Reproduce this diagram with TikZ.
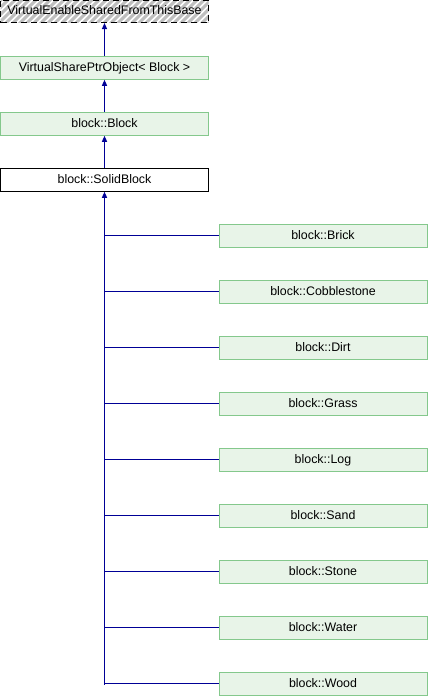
\documentclass[tikz,border=0pt]{standalone}
\usepackage{fontspec}
\setmainfont{Liberation Sans}
\usetikzlibrary{arrows.meta}
\definecolor{boxfill}{RGB}{232,244,232}
\definecolor{boxline}{RGB}{132,200,140}
\definecolor{edgecol}{RGB}{0,0,150}
\definecolor{hatchcol}{RGB}{190,190,190}
\tikzset{
  cls/.style={draw=boxline, fill=boxfill, line width=1pt, minimum width=208pt, minimum height=23pt, inner sep=0pt, font=\fontsize{12.4}{14}\selectfont, text height=9pt, text depth=2.5pt},
  curcls/.style={cls, draw=black, fill=white},
  inh/.style={draw=edgecol, line width=1pt, -{Triangle[length=6pt,width=5pt]}},
  conn/.style={draw=edgecol, line width=1pt}
}
\begin{document}
\begin{tikzpicture}[x=1pt,y=-1pt]
\useasboundingbox (0,0) rectangle (428,696);
% top hatched box
\begin{scope}
  \clip (0.5,0) rectangle (208.5,22.5);
  \fill[white] (0.5,0) rectangle (208.5,22.5);
  \foreach \i in {-30,-23,...,230}{
    \draw[hatchcol, line width=3pt] (\i,24) -- (\i+26,-2);
  }
\end{scope}
\node[cls, draw=black, dashed, fill=none, dash pattern=on 6pt off 4pt, minimum height=22.5pt] (vesb) at (104.5,11.25) {VirtualEnableSharedFromThisBase};
\node[cls] (vspo) at (104.5,67.75) {VirtualSharePtrObject< Block >};
\node[cls] (blk) at (104.5,123.75) {block::Block};
\node[curcls] (solid) at (104.5,179.75) {block::SolidBlock};
\foreach \n/\t [count=\k from 0] in {brick/Brick,cobble/Cobblestone,dirt/Dirt,grass/Grass,log/Log,sand/Sand,stone/Stone,water/Water,wood/Wood}{
  \node[cls] (\n) at (323,235.75+56*\k) {block::\t};
}
\draw[inh] (vspo.north) -- (vesb.south);
\draw[inh] (blk.north) -- (vspo.south);
\draw[inh] (solid.north) -- (blk.south);
\coordinate (trunk) at (104.5,684.75);
\draw[inh] (trunk) -- (solid.south);
\foreach \n in {brick,cobble,dirt,grass,log,sand,stone,water,wood}{
  \draw[conn] (\n.west) -- (\n.west -| trunk);
}
\end{tikzpicture}
\end{document}
